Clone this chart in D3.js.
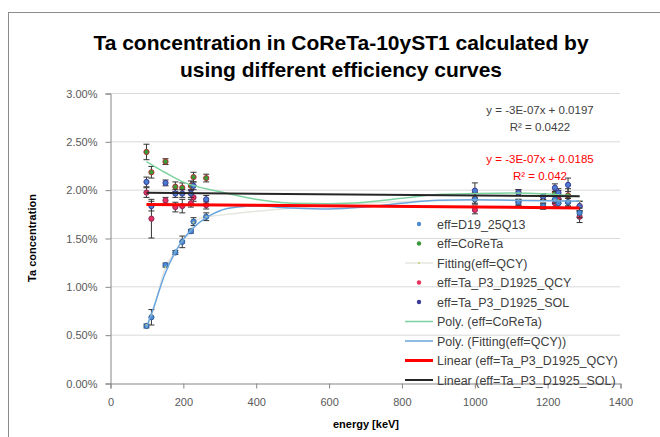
<!DOCTYPE html>
<html lang="en">
<head>
    <meta charset="UTF-8">
    <script src="https://cdn.jsdelivr.net/npm/d3@7"></script>
    <title>Ta concentration</title>
    <style>
        body { margin: 0; background: white; }
        svg { display: block; font-family: "Liberation Sans", Arial, sans-serif; }
        .tick text { fill: #595959; font-size: 11px; }
    </style>
</head>
<body>
<script>
    /*------------------- data --------------------*/
    // gamma line energies [keV]
    const energy = [100.1, 113.7, 152.4, 179.4, 198.4, 222.1, 229.3, 264.1,
                    1001.7, 1121.3, 1189.0, 1221.4, 1231.0, 1257.4, 1289.1];

    // Ta concentration in %, one list per efficiency curve
    const effD19 = [0.59, 0.68, 1.22, 1.35, 1.46, 1.57, 1.67, 1.72,
                    1.90, 1.87, 1.83, 1.90, 1.86, 1.87, 1.76];
    const effD19Err = [0.02, 0.08, 0.02, 0.02, 0.06, 0.02, 0.04, 0.04,
                       0.04, 0.03, 0.03, 0.04, 0.04, 0.04, 0.05];
    const effCoReTa = [2.39, 2.18, 2.29, 2.03, 2.02, 2.04, 2.13, 2.12,
                       1.91, 1.97, 1.93, 1.97, 1.95, 1.94, 1.83];
    const effCoReTaErr = [0.08, 0.06, 0.03, 0.05, 0.05, 0.05, 0.05, 0.04,
                          0.06, 0.03, 0.03, 0.04, 0.04, 0.07, 0.05];
    const fittingQCY = [0.60, 0.70, 1.20, 1.36, 1.47, 1.58, 1.66, 1.72,
                        1.89, 1.89, 1.89, 1.89, 1.89, 1.88, 1.88];
    const effQCY = [1.97, 1.70, 1.89, 1.82, 1.83, 1.86, 1.92, 1.84,
                    1.79, 1.87, 1.83, 1.86, 1.90, 1.87, 1.72];
    const effQCYErr = [0.05, 0.20, 0.03, 0.05, 0.07, 0.04, 0.04, 0.04,
                       0.04, 0.03, 0.03, 0.04, 0.04, 0.04, 0.06];
    const effSOL = [2.08, 1.83, 2.07, 1.96, 1.96, 1.96, 2.04, 1.90,
                    1.99, 1.97, 1.93, 2.02, 1.97, 2.05, 1.83];
    const effSOLErr = [0.05, 0.05, 0.03, 0.04, 0.04, 0.04, 0.04, 0.04,
                       0.08, 0.03, 0.03, 0.04, 0.04, 0.07, 0.05];

    // polynomial trendlines [energy, %]
    const polyCoReTa = [[100, 2.29], [150, 2.18], [200, 2.08], [300, 1.98], [400, 1.90],
                        [500, 1.86], [600, 1.855], [700, 1.87], [800, 1.91], [900, 1.95],
                        [1000, 1.96], [1100, 1.965], [1200, 1.955], [1289, 1.93]];
    const polyFitting = [[100, 0.57], [120, 0.78], [150, 1.12], [180, 1.36], [200, 1.48],
                         [230, 1.61], [264, 1.71], [300, 1.78], [350, 1.82], [400, 1.83],
                         [500, 1.81], [600, 1.80], [700, 1.82], [800, 1.86], [900, 1.89],
                         [1000, 1.895], [1100, 1.89], [1200, 1.885], [1289, 1.88]];

    // linear trendlines: slope per keV and intercept (fraction)
    const linQCY = {slope: -3e-7, intercept: 0.0185};
    const linSOL = {slope: -3e-7, intercept: 0.0197};

    const xTicks = [0, 200, 400, 600, 800, 1000, 1200, 1400];
    const yTicks = [0, 0.5, 1.0, 1.5, 2.0, 2.5, 3.0];

    const legendLabels = ["eff=D19_25Q13", "eff=CoReTa", "Fitting(eff=QCY)",
        "eff=Ta_P3_D1925_QCY", "eff=Ta_P3_D1925_SOL", "Poly. (eff=CoReTa)",
        "Poly. (Fitting(eff=QCY))", "Linear (eff=Ta_P3_D1925_QCY)", "Linear (eff=Ta_P3_D1925_SOL)"];

    /*------------------- setup --------------------*/
    const width = 660, height = 437;
    const svg = d3.select("body").append("svg")
        .attr("width", width)
        .attr("height", height);

    // outer chart frame (runs past the right and bottom edges)
    svg.append("rect")
        .attr("x", 8.5).attr("y", 12.5)
        .attr("width", 660).attr("height", 440)
        .attr("fill", "white").attr("stroke", "#8c8c8c");

    const x = d3.scaleLinear().domain([0, 1400]).range([110, 620]);
    const y = d3.scaleLinear().domain([0, 3]).range([383, 93]);

    /*------------------- title --------------------*/
    const title = svg.append("text")
        .attr("text-anchor", "middle")
        .attr("font-weight", "bold")
        .attr("font-size", "21px")
        .attr("fill", "#000");
    title.append("tspan").attr("x", 341).attr("y", 50).text("Ta concentration in CoReTa-10yST1 calculated by");
    title.append("tspan").attr("x", 341).attr("y", 77).text("using different efficiency curves");

    /*------------------- grid & axes --------------------*/
    svg.append("g").selectAll("line")
        .data(yTicks.slice(1))
        .join("line")
        .attr("x1", x(0)).attr("x2", x(1400))
        .attr("y1", d => y(d) + 0.5).attr("y2", d => y(d) + 0.5)
        .attr("stroke", "#d9d9d9");

    const yAxis = svg.append("g")
        .attr("transform", `translate(${x(0) + 0.5},0.5)`)
        .call(d3.axisLeft(y).tickValues(yTicks).tickSize(5).tickPadding(8)
            .tickFormat(d => d.toFixed(2) + "%"));
    const xAxis = svg.append("g")
        .attr("transform", `translate(0.5,${y(0) + 0.5})`)
        .call(d3.axisBottom(x).tickValues(xTicks).tickSize(5).tickPadding(10)
            .tickFormat(d3.format("d")));
    [xAxis, yAxis].forEach(a => {
        a.select(".domain").attr("stroke", "#868686");
        a.selectAll(".tick line").attr("stroke", "#868686");
        a.selectAll(".tick text").attr("font-family", "Liberation Sans, Arial, sans-serif");
    });
    yAxis.selectAll(".tick text").attr("font-size", "11px");
    xAxis.selectAll(".tick text").attr("font-size", "12px");

    svg.append("text")
        .attr("x", 366).attr("y", 428)
        .attr("text-anchor", "middle")
        .attr("font-weight", "bold").attr("font-size", "11px")
        .text("energy [keV]");
    svg.append("text")
        .attr("transform", "translate(36,238) rotate(-90)")
        .attr("text-anchor", "middle")
        .attr("font-weight", "bold").attr("font-size", "11px")
        .text("Ta concentration");

    /*------------------- series --------------------*/
    const series = [
        {vals: effCoReTa, err: effCoReTaErr, fill: "#3a9a3a", stroke: "#b03030"},
        {vals: effQCY, err: effQCYErr, fill: "#e8305a", stroke: "#8a2a60"},
        {vals: effSOL, err: effSOLErr, fill: "#4a7fd0", stroke: "#3a3a9a"},
        {vals: effD19, err: effD19Err, fill: "#4f8ad6", stroke: "#2e5f9e"}
    ];

    // faint fitting line
    svg.append("path")
        .datum(energy.map((e, i) => [e, fittingQCY[i]]))
        .attr("fill", "none").attr("stroke", "#e6e6e0").attr("stroke-width", 1.5)
        .attr("d", d3.line().x(d => x(d[0])).y(d => y(d[1])).curve(d3.curveMonotoneX));

    series.forEach(s => {
        const g = svg.append("g");
        const pts = energy.map((e, i) => ({e: e, v: s.vals[i], err: s.err[i]}));
        // error bars
        g.selectAll("line.bar").data(pts).join("line")
            .attr("x1", d => x(d.e)).attr("x2", d => x(d.e))
            .attr("y1", d => y(d.v - d.err)).attr("y2", d => y(d.v + d.err))
            .attr("stroke", "#333").attr("stroke-width", 1);
        g.selectAll("line.cap").data(pts.flatMap(d => [d.v - d.err, d.v + d.err].map(v => ({e: d.e, v: v}))))
            .join("line")
            .attr("x1", d => x(d.e) - 3).attr("x2", d => x(d.e) + 3)
            .attr("y1", d => y(d.v)).attr("y2", d => y(d.v))
            .attr("stroke", "#333").attr("stroke-width", 1);
        g.selectAll("circle").data(pts).join("circle")
            .attr("cx", d => x(d.e)).attr("cy", d => y(d.v))
            .attr("r", 2.6)
            .attr("fill", s.fill).attr("stroke", s.stroke).attr("stroke-width", 1);
    });

    svg.append("g").selectAll("circle")
        .data(energy.map((e, i) => [e, fittingQCY[i]]))
        .join("circle")
        .attr("cx", d => x(d[0])).attr("cy", d => y(d[1]))
        .attr("r", 1).attr("fill", "#c8d070");

    /*------------------- trendlines --------------------*/
    const curve = d3.line().x(d => x(d[0])).y(d => y(d[1])).curve(d3.curveMonotoneX);
    svg.append("path").datum(polyCoReTa)
        .attr("fill", "none").attr("stroke", "#7dd3a0").attr("stroke-width", 1.5)
        .attr("d", curve);
    svg.append("path").datum(polyFitting)
        .attr("fill", "none").attr("stroke", "#6aa6de").attr("stroke-width", 1.5)
        .attr("d", curve);

    const eRange = d3.extent(energy);
    const linLine = (lin) => eRange.map(e => [e, (lin.intercept + lin.slope * e) * 100]);
    svg.append("path").datum(linLine(linQCY))
        .attr("fill", "none").attr("stroke", "#ff0000").attr("stroke-width", 3)
        .attr("d", d3.line().x(d => x(d[0])).y(d => y(d[1])));
    svg.append("path").datum(linLine(linSOL))
        .attr("fill", "none").attr("stroke", "#262626").attr("stroke-width", 2)
        .attr("d", d3.line().x(d => x(d[0])).y(d => y(d[1])));

    /*------------------- equations --------------------*/
    const eq = [
        {lines: ["y = -3E-07x + 0.0197", "R² = 0.0422"], y0: 114, color: "#404040"},
        {lines: ["y = -3E-07x + 0.0185", "R² = 0.042"], y0: 163, color: "#ff0000"}
    ];
    eq.forEach(q => {
        q.lines.forEach((t, i) => {
            svg.append("text")
                .attr("x", 540).attr("y", q.y0 + i * 17)
                .attr("text-anchor", "middle")
                .attr("font-size", "11.5px")
                .attr("fill", q.color)
                .text(t);
        });
    });

    /*------------------- legend --------------------*/
    const legendItems = [
        {type: "dot", color: "#4f8ad6"},
        {type: "dot", color: "#3a9a3a"},
        {type: "fit", color: "#c8d070"},
        {type: "dot", color: "#e8305a"},
        {type: "dot", color: "#3a3a9a"},
        {type: "line", color: "#7dd3a0", w: 1.5},
        {type: "line", color: "#6aa6de", w: 1.5},
        {type: "line", color: "#ff0000", w: 3},
        {type: "line", color: "#262626", w: 2}
    ];
    const legend = svg.append("g");
    legendItems.forEach((item, i) => {
        const ly = 224 + i * 19.5;
        if (item.type === "line" || item.type === "fit") {
            legend.append("line")
                .attr("x1", 405).attr("x2", 433).attr("y1", ly).attr("y2", ly)
                .attr("stroke", item.type === "fit" ? "#e6e6e0" : item.color)
                .attr("stroke-width", item.type === "fit" ? 1.5 : item.w);
        }
        legend.append("circle")
            .attr("cx", 419).attr("cy", ly)
            .attr("r", item.type === "fit" ? 1 : 2.2)
            .attr("fill", item.type === "line" ? "none" : item.color);
        legend.append("text")
            .attr("x", 437).attr("y", ly + 4.5)
            .attr("font-size", "12.5px")
            .attr("fill", "#404040")
            .text(legendLabels[i]);
    });
</script>
</body>
</html>
